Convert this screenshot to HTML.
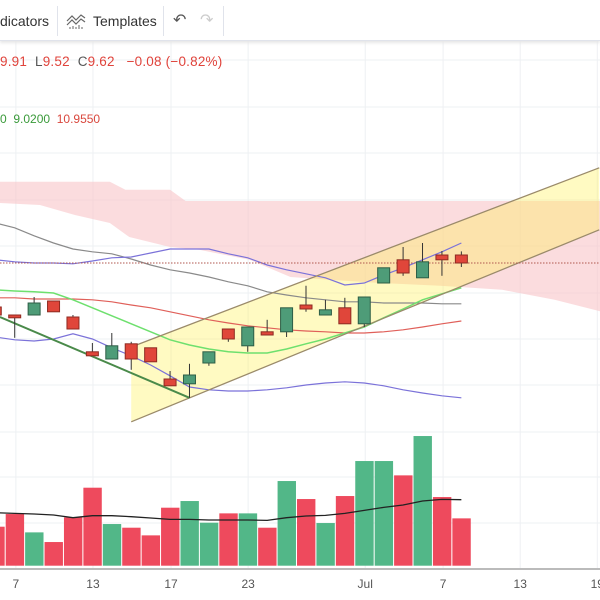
<!DOCTYPE html>
<html><head><meta charset="utf-8">
<style>
html,body{margin:0;padding:0;background:#fff;width:600px;height:600px;overflow:hidden;font-family:"Liberation Sans",sans-serif}
#tb{position:absolute;left:0;top:0;width:600px;height:40px;border-bottom:1px solid #e0e3eb;box-shadow:0 2px 3px #e6e6e6;background:#fff}
.t{position:absolute;font-size:14px;color:#333;top:13px}
.sep{position:absolute;top:6px;width:1px;height:30px;background:#e0e3eb}
#leg1{position:absolute;left:0;top:54px;font-size:13.5px;color:#e0433b;letter-spacing:.2px}
#leg2{position:absolute;left:0;top:112px;font-size:12px}
</style></head><body>
<svg id="chart" width="600" height="600" style="position:absolute;left:0;top:0"></svg>
<div id="tb">
 <span class="t" style="left:0">dicators</span>
 <div class="sep" style="left:57px"></div>
 <svg style="position:absolute;left:66px;top:12px" width="20" height="18"><path d="M1 9 L6 4 L10 8 L15 3 L19 6 M1 13 L6 8 L10 12 L15 7 L19 10" stroke="#666" fill="none" stroke-width="1.2"/><path d="M4 17v-2M7 17v-3M10 17v-2M13 17v-4M16 17v-2" stroke="#666"/></svg>
 <span class="t" style="left:93px">Templates</span>
 <div class="sep" style="left:163px"></div>
 <span class="t" style="left:173px;font-size:16px;top:10px;color:#555">↶</span>
 <span class="t" style="left:200px;font-size:16px;top:10px;color:#ccc">↷</span>
 <div class="sep" style="left:223px"></div>
</div>
<div id="leg1">9.91&nbsp; <span style="color:#555">L</span>9.52&nbsp; <span style="color:#555">C</span>9.62&nbsp;&nbsp; −0.08 (−0.82%)</div>
<div id="leg2"><span style="color:#3a9a3a">0&nbsp; 9.0200</span>&nbsp; <span style="color:#d9473d">10.9550</span></div>
<script>
const opens=[8.52,8.32,8.32,8.67,8.27,7.40,7.22,7.60,7.50,6.72,6.60,7.12,7.97,7.55,7.90,7.90,8.57,8.32,8.50,8.10,9.12,9.70,9.25,9.82,9.82];
const highs=[8.62,8.32,8.77,8.67,8.32,7.62,7.87,7.65,7.50,6.92,7.10,7.40,7.97,8.02,8.20,8.50,9.05,8.70,8.75,8.77,9.50,10.02,10.12,9.92,9.91];
const lows=[8.25,7.75,8.32,8.40,7.97,7.30,7.22,6.95,7.15,6.55,6.25,7.05,7.65,7.40,7.82,7.77,8.40,8.32,8.10,8.02,9.12,9.30,9.25,9.30,9.52];
const closes=[8.32,8.25,8.62,8.40,7.97,7.30,7.55,7.22,7.15,6.55,6.82,7.40,7.72,8.02,7.82,8.50,8.47,8.45,8.10,8.77,9.50,9.37,9.65,9.70,9.62];
const volumes=[117,155,100,71,145,234,125,114,91,174,194,129,157,157,114,254,200,128,209,314,314,271,389,206,142];
const volMA=[159,157,155,152,144,150,150,147,143,139,139,137,137,137,136,144,149,151,157,166,175,182,194,199,198];
const bbUpper=[9.70,9.65,9.62,9.62,9.60,9.67,9.75,9.77,9.87,9.97,9.97,9.97,9.85,9.75,9.57,9.45,9.35,9.25,9.07,9.12,9.32,9.50,9.70,9.90,10.12];
const bbLower=[7.77,7.70,7.67,7.72,7.85,7.72,7.50,7.30,7.07,6.80,6.52,6.45,6.42,6.42,6.45,6.50,6.57,6.62,6.65,6.62,6.55,6.45,6.37,6.30,6.25];
const grayMA=[10.62,10.50,10.30,10.12,9.97,9.90,9.85,9.72,9.57,9.45,9.37,9.27,9.15,9.05,8.90,8.82,8.75,8.70,8.65,8.65,8.62,8.62,8.62,8.60,8.60];
const redMA=[8.75,8.75,8.72,8.72,8.72,8.70,8.65,8.57,8.50,8.40,8.30,8.20,8.12,8.05,8.00,7.95,7.92,7.90,7.87,7.87,7.90,7.95,8.02,8.10,8.17];
const greenMA=[8.95,8.92,8.90,8.87,8.70,8.50,8.30,8.10,7.90,7.70,7.57,7.47,7.40,7.37,7.37,7.47,7.60,7.72,7.87,8.02,8.25,8.47,8.70,8.85,9.00];
const cloudTopIdx=[-1,5.9,6.7,9,9.8,31.5];
const cloudTop=[11.65,11.65,11.45,11.45,11.17,11.17];
const cloudBotIdx=[-1,2.3,4.1,5.9,6.9,9,10.5,13.1,15.2,17.2,19.8,22.9,26.1,28.8,31.5];
const cloudBot=[11.15,11.07,10.82,10.62,10.27,10.02,9.95,9.70,9.27,9.20,9.12,9.05,8.95,8.70,8.37];
const channelIdx=[7.0,31.1];
const channelUpper=[7.52,12.00];
const channelLower=[5.65,10.45];
const downIdx=[0.24,10];
const downLine=[8.27,6.25];
const lastPrice=9.62;
const xTickIdx=[1.06,5.03,9.05,13.02,19.05,23.06,27.03,31.0];
const xTickLabels=["7","13","17","23","Jul","7","13","19"];

const X=i=>14.7+19.42*(i-1);
const Y=p=>263-(p-lastPrice)*40;
const VY=v=>565.7-v/3;
const svg=document.getElementById('chart');
const NS="http://www.w3.org/2000/svg";
function mk(tag,attrs,parent){const e=document.createElementNS(NS,tag);for(const k in attrs)e.setAttribute(k,attrs[k]);(parent||svg).appendChild(e);return e;}

// grid
[60,107,153,200,246,293,339,385,432,477,523].forEach(y=>{const l=mk('line',{x1:0,x2:600,y1:y,y2:y,stroke:'#eef0f3'});

});
xTickIdx.forEach(i=>{const l=mk('line',{x1:X(i),x2:X(i),y1:40,y2:568,stroke:'#eef0f3'});

});

function poly(idxA,valA,idxB,valB,fill,name){
  let pts=idxA.map((i,k)=>X(i)+','+Y(valA[k]));
  for(let k=idxB.length-1;k>=0;k--)pts.push(X(idxB[k])+','+Y(valB[k]));
  const p=mk('polygon',{points:pts.join(' '),fill:fill});
  
  
}
poly(cloudTopIdx,cloudTop,cloudBotIdx,cloudBot,'rgba(248,196,200,0.6)','ichimoku-cloud');
poly(channelIdx,channelUpper,channelIdx,channelLower,'rgba(255,240,80,0.35)','channel-fill');

function line(idx,vals,color,w,name){
  const d=idx.map((i,k)=>(k?'L':'M')+X(i)+' '+Y(vals[k])).join(' ');
  const p=mk('path',{d:d,stroke:color,'stroke-width':w,fill:'none'});
  
  
}
const idx=opens.map((_,i)=>i);
line(idx,grayMA,'#8a8a8a',1.2,'gray-ma-line');
line(idx,bbUpper,'#7b72d9',1.2,'bollinger-upper');
line(idx,bbLower,'#7b72d9',1.2,'bollinger-lower');
line(idx,redMA,'#e0605a',1.2,'red-ma-line');
line(idx,greenMA,'#6ee06e',1.5,'green-ma-line');
line(channelIdx,channelUpper,'#9a8a6a',1.3,'channel-upper-line');
line(channelIdx,channelLower,'#9a8a6a',1.3,'channel-lower-line');
line(downIdx,downLine,'#4a8a4a',2,'downtrend-line');
const dl=mk('line',{x1:0,x2:600,y1:Y(lastPrice),y2:Y(lastPrice),stroke:'#b0574f','stroke-dasharray':'1.5,1.5'});



// candles
opens.forEach((o,i)=>{
  const c=closes[i],up=c>=o,x=X(i);
  const g=mk('g',{});
  
  
  mk('line',{x1:x,x2:x,y1:Y(highs[i]),y2:Y(lows[i]),stroke:'#333','stroke-width':1},g);
  const top=Y(Math.max(o,c)),bot=Y(Math.min(o,c));
  mk('rect',{x:x-6,y:top,width:12,height:Math.max(bot-top,2),fill:up?'#4e9c78':'#e0463a',stroke:up?'#2d5e46':'#8e2b22','stroke-width':1},g);
});

// volume
volumes.forEach((v,i)=>{
  const up=closes[i]>=opens[i],x=X(i);
  const r=mk('rect',{x:x-9,y:VY(v),width:18.4,height:565.7-VY(v),fill:up?'#52b788':'#ee4a5d'});
  
  
});
const vd=volMA.map((v,i)=>(i?'L':'M')+X(i)+' '+VY(v)).join(' ');
const vm=mk('path',{d:vd,stroke:'#222','stroke-width':1.3,fill:'none'});



// x axis
const ax=mk('line',{x1:0,x2:600,y1:569,y2:569,stroke:'#bbb','stroke-width':2});


xTickIdx.forEach((i,k)=>{
  const t=mk('text',{x:X(i),y:588,'text-anchor':'middle','font-size':12,fill:'#555','font-family':'Liberation Sans, sans-serif'});
  t.textContent=xTickLabels[k];
  
  
});
</script>
</body></html>
